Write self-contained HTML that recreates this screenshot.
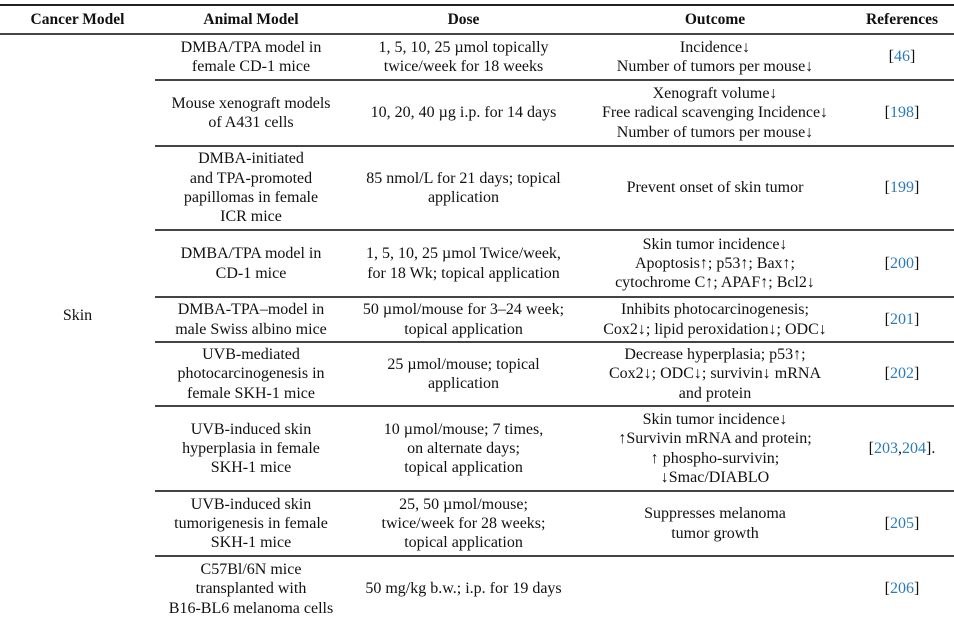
<!DOCTYPE html>
<html><head><meta charset="utf-8"><style>
body{margin:0;width:954px;height:615px;overflow:hidden;background:#fff;font-family:"Liberation Serif","DejaVu Serif",serif;color:#111;}
.c{position:absolute;display:flex;align-items:center;justify-content:center;text-align:center;font-size:16px;line-height:19.3px;white-space:nowrap;}
.h{font-weight:bold;font-size:15.5px;}
.l{position:absolute;height:1.5px;background:#444;}
a{color:#2a7ab8;text-decoration:none}
</style></head><body>
<div class="l" style="left:0;top:4px;width:954px;height:2px;background:#222"></div>
<div class="l" style="left:0;top:33px;width:954px;"></div>
<div class="c h" style="left:0;top:6px;width:155px;height:27px">Cancer Model</div>
<div class="c h" style="left:155px;top:6px;width:192px;height:27px">Animal Model</div>
<div class="c h" style="left:347px;top:6px;width:233px;height:27px">Dose</div>
<div class="c h" style="left:580px;top:6px;width:270px;height:27px">Outcome</div>
<div class="c h" style="left:850px;top:6px;width:104px;height:27px">References</div>
<div class="c" style="left:0;top:34px;width:155px;height:564px">Skin</div>

<div class="l" style="left:155px;top:79px;width:799px"></div>
<div class="l" style="left:155px;top:145px;width:799px"></div>
<div class="l" style="left:155px;top:229px;width:799px"></div>
<div class="l" style="left:155px;top:296px;width:799px"></div>
<div class="l" style="left:155px;top:341px;width:799px"></div>
<div class="l" style="left:155px;top:405px;width:799px"></div>
<div class="l" style="left:155px;top:490px;width:799px"></div>
<div class="l" style="left:155px;top:555px;width:799px"></div>

<div class="c" style="left:155px;top:35px;width:192px;height:44px">DMBA/TPA model in<br>female CD-1 mice</div>
<div class="c" style="left:347px;top:35px;width:233px;height:44px">1, 5, 10, 25 µmol topically<br>twice/week for 18 weeks</div>
<div class="c" style="left:580px;top:35px;width:270px;height:44px">Incidence↓<br>Number of tumors per mouse↓</div>
<div class="c" style="left:850px;top:35px;width:104px;height:44px">[<a>46</a>]</div>

<div class="c" style="left:155px;top:81px;width:192px;height:64px">Mouse xenograft models<br>of A431 cells</div>
<div class="c" style="left:347px;top:81px;width:233px;height:64px">10, 20, 40 µg i.p. for 14 days</div>
<div class="c" style="left:580px;top:81px;width:270px;height:64px">Xenograft volume↓<br>Free radical scavenging Incidence↓<br>Number of tumors per mouse↓</div>
<div class="c" style="left:850px;top:81px;width:104px;height:64px">[<a>198</a>]</div>

<div class="c" style="left:155px;top:147px;width:192px;height:82px">DMBA-initiated<br>and TPA-promoted<br>papillomas in female<br>ICR mice</div>
<div class="c" style="left:347px;top:147px;width:233px;height:82px">85 nmol/L for 21 days; topical<br>application</div>
<div class="c" style="left:580px;top:147px;width:270px;height:82px">Prevent onset of skin tumor</div>
<div class="c" style="left:850px;top:147px;width:104px;height:82px">[<a>199</a>]</div>

<div class="c" style="left:155px;top:231px;width:192px;height:65px">DMBA/TPA model in<br>CD-1 mice</div>
<div class="c" style="left:347px;top:231px;width:233px;height:65px">1, 5, 10, 25 µmol Twice/week,<br>for 18 Wk; topical application</div>
<div class="c" style="left:580px;top:231px;width:270px;height:65px">Skin tumor incidence↓<br>Apoptosis↑; p53↑; Bax↑;<br>cytochrome C↑; APAF↑; Bcl2↓</div>
<div class="c" style="left:850px;top:231px;width:104px;height:65px">[<a>200</a>]</div>

<div class="c" style="left:155px;top:298px;width:192px;height:43px">DMBA-TPA–model in<br>male Swiss albino mice</div>
<div class="c" style="left:347px;top:298px;width:233px;height:43px">50 µmol/mouse for 3–24 week;<br>topical application</div>
<div class="c" style="left:580px;top:298px;width:270px;height:43px">Inhibits photocarcinogenesis;<br>Cox2↓; lipid peroxidation↓; ODC↓</div>
<div class="c" style="left:850px;top:298px;width:104px;height:43px">[<a>201</a>]</div>

<div class="c" style="left:155px;top:343px;width:192px;height:62px">UVB-mediated<br>photocarcinogenesis in<br>female SKH-1 mice</div>
<div class="c" style="left:347px;top:343px;width:233px;height:62px">25 µmol/mouse; topical<br>application</div>
<div class="c" style="left:580px;top:343px;width:270px;height:62px">Decrease hyperplasia; p53↑;<br>Cox2↓; ODC↓; survivin↓ mRNA<br>and protein</div>
<div class="c" style="left:850px;top:343px;width:104px;height:62px">[<a>202</a>]</div>

<div class="c" style="left:155px;top:407px;width:192px;height:83px">UVB-induced skin<br>hyperplasia in female<br>SKH-1 mice</div>
<div class="c" style="left:347px;top:407px;width:233px;height:83px">10 µmol/mouse; 7 times,<br>on alternate days;<br>topical application</div>
<div class="c" style="left:580px;top:407px;width:270px;height:83px">Skin tumor incidence↓<br>↑Survivin mRNA and protein;<br>↑ phospho-survivin;<br>↓Smac/DIABLO</div>
<div class="c" style="left:850px;top:407px;width:104px;height:83px">[<a>203</a>,<a>204</a>].</div>

<div class="c" style="left:155px;top:492px;width:192px;height:63px">UVB-induced skin<br>tumorigenesis in female<br>SKH-1 mice</div>
<div class="c" style="left:347px;top:492px;width:233px;height:63px">25, 50 µmol/mouse;<br>twice/week for 28 weeks;<br>topical application</div>
<div class="c" style="left:580px;top:492px;width:270px;height:63px">Suppresses melanoma<br>tumor growth</div>
<div class="c" style="left:850px;top:492px;width:104px;height:63px">[<a>205</a>]</div>

<div class="c" style="left:155px;top:560px;width:192px;height:58px">C57Bl/6N mice<br>transplanted with<br>B16-BL6 melanoma cells</div>
<div class="c" style="left:347px;top:560px;width:233px;height:58px">50 mg/kg b.w.; i.p. for 19 days</div>
<div class="c" style="left:850px;top:560px;width:104px;height:58px">[<a>206</a>]</div>
</body></html>
